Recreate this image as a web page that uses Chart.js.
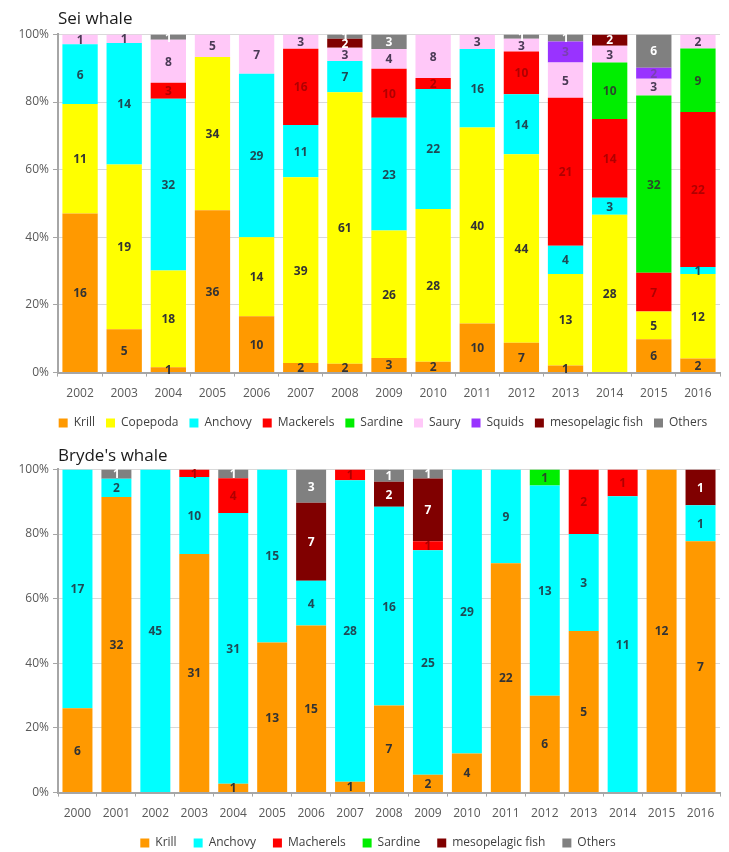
<!DOCTYPE html>
<html>
<head>
<meta charset="utf-8">
<script src="https://cdn.jsdelivr.net/npm/chart.js@4/dist/chart.umd.min.js"></script>
<style>
  html, body { margin: 0; background: #fff; overflow: hidden; }
  .panel { position: absolute; left: 0; }
</style>
</head>
<body>
<div class="panel" style="top:0"><canvas id="sei" width="729" height="446"></canvas></div>
<div class="panel" style="top:432px"><canvas id="bryde" width="729" height="440"></canvas></div>
<script>
// Sei whale - counts per prey item
const seiYears = ['2002','2003','2004','2005','2006','2007','2008','2009','2010','2011','2012','2013','2014','2015','2016'];
const seiKrill     = [16, 5, 1,36,10, 2, 2, 3, 2,10, 7, 1, 0, 6, 2];
const seiCopepoda  = [11,19,18,34,14,39,61,26,28,40,44,13,28, 5,12];
const seiAnchovy   = [ 6,14,32, 0,29,11, 7,23,22,16,14, 4, 3, 0, 1];
const seiMackerels = [ 0, 0, 3, 0, 0,16, 0,10, 2, 0,10,21,14, 7,22];
const seiSardine   = [ 0, 0, 0, 0, 0, 0, 0, 0, 0, 0, 0, 0,10,32, 9];
const seiSaury     = [ 1, 1, 8, 5, 7, 3, 3, 4, 8, 3, 3, 5, 3, 3, 2];
const seiSquids    = [ 0, 0, 0, 0, 0, 0, 0, 0, 0, 0, 0, 3, 0, 2, 0];
const seiMeso      = [ 0, 0, 0, 0, 0, 0, 2, 0, 0, 0, 0, 0, 2, 0, 0];
const seiOthers    = [ 0, 0, 1, 0, 0, 0, 1, 3, 0, 0, 1, 1, 0, 6, 0];

// Bryde's whale
const brydeYears = ['2000','2001','2002','2003','2004','2005','2006','2007','2008','2009','2010','2011','2012','2013','2014','2015','2016'];
const brydeKrill     = [ 6,32, 0,31, 1,13,15, 1, 7, 2, 4,22, 6, 5, 0,12, 7];
const brydeAnchovy   = [17, 2,45,10,31,15, 4,28,16,25,29, 9,13, 3,11, 0, 1];
const brydeMacherels = [ 0, 0, 0, 1, 4, 0, 0, 1, 0, 1, 0, 0, 0, 2, 1, 0, 0];
const brydeSardine   = [ 0, 0, 0, 0, 0, 0, 0, 0, 0, 0, 0, 0, 1, 0, 0, 0, 0];
const brydeMeso      = [ 0, 0, 0, 0, 0, 0, 7, 0, 2, 7, 0, 0, 0, 0, 0, 0, 1];
const brydeOthers    = [ 0, 1, 0, 0, 1, 0, 3, 0, 1, 1, 0, 0, 0, 0, 0, 0, 0];

const FONT = '"Open Sans", "Noto Sans", sans-serif';

function toPercent(series) {
  const totals = series[0].map((_, i) => series.reduce((s, arr) => s + arr[i], 0));
  return series.map(arr => arr.map((v, i) => v / totals[i] * 100));
}

// draws the count in the middle of each segment
const countLabels = {
  id: 'countLabels',
  afterDatasetsDraw(chart) {
    const ctx = chart.ctx;
    ctx.save();
    ctx.font = 'bold 12px ' + FONT;
    ctx.textAlign = 'center';
    ctx.textBaseline = 'middle';
    chart.data.datasets.forEach((ds, di) => {
      const meta = chart.getDatasetMeta(di);
      meta.data.forEach((bar, i) => {
        const n = ds.counts[i];
        if (!n) return;
        ctx.fillStyle = ds.labelColor;
        ctx.fillText(n, bar.x, (bar.y + bar.base) / 2 + 1);
      });
    });
    ctx.restore();
  }
};

// nudges the legend box so it sits where the original one does
const legendShift = {
  id: 'legendShift',
  afterLayout(chart, args, o) {
    const lg = chart.legend;
    lg.left += o.dx; lg.right += o.dx;
    lg.top += o.dy; lg.bottom += o.dy;
  }
};

function makeChart(id, title, years, names, colors, labelColors, counts, opts) {
  const pct = toPercent(counts);
  const datasets = names.map((name, i) => ({
    label: name,
    data: pct[i],
    counts: counts[i],
    backgroundColor: colors[i],
    labelColor: labelColors[i],
    borderWidth: 0,
    barPercentage: opts.barPct,
    categoryPercentage: 1
  }));
  return new Chart(document.getElementById(id), {
    type: 'bar',
    data: { labels: years, datasets: datasets },
    options: {
      responsive: false,
      animation: false,
      layout: { padding: { left: 0, right: 9, bottom: 2 } },
      plugins: {
        title: {
          display: true, text: title, align: 'start', fullSize: false,
          color: '#1a1a1a', font: { family: FONT, size: 17, weight: 'normal' },
          padding: { top: opts.titleTop, bottom: opts.titleBottom }
        },
        legend: {
          position: 'bottom',
          labels: {
            boxWidth: 9, boxHeight: 9, color: '#404040', padding: opts.legendPad,
            font: { family: FONT, size: 12 }
          }
        },
        legendShift: { dx: opts.dx, dy: opts.dy },
        tooltip: { enabled: false }
      },
      scales: {
        x: {
          stacked: true,
          grid: { drawOnChartArea: false, drawTicks: true, tickLength: 4, color: '#a6a6a6' },
          border: { color: '#a6a6a6', width: 2 },
          ticks: { color: '#595959', font: { family: FONT, size: 12 }, padding: 10 }
        },
        y: {
          stacked: true, min: 0, max: 100,
          afterFit(scale) { scale.width = 58; },
          grid: { color: '#d9d9d9', tickLength: 5, tickColor: '#a6a6a6' },
          border: { color: '#a6a6a6', width: 2 },
          ticks: { stepSize: 20, color: '#595959', font: { family: FONT, size: 12 }, padding: 4,
                   callback: v => v + '%' }
        }
      }
    },
    plugins: [countLabels, legendShift]
  });
}

makeChart('sei', 'Sei whale', seiYears,
  ['Krill','Copepoda','Anchovy','Mackerels','Sardine','Saury','Squids','mesopelagic fish','Others'],
  ['#ff9900','#ffff00','#00ffff','#ff0000','#00ee00','#ffc8f8','#9933ff','#800000','#808080'],
  ['#333333','#333333','#1f4a55','#b00000','#2a4a2a','#4a3a55','#7a40b0','#ffffff','#ffffff'],
  [seiKrill, seiCopepoda, seiAnchovy, seiMackerels, seiSardine, seiSaury, seiSquids, seiMeso, seiOthers],
  { barPct: 0.8, titleTop: 9, titleBottom: 5, legendPad: 11, dx: 23, dy: -5 });

makeChart('bryde', "Bryde's whale", brydeYears,
  ['Krill','Anchovy','Macherels','Sardine','mesopelagic fish','Others'],
  ['#ff9900','#00ffff','#ff0000','#00ee00','#800000','#808080'],
  ['#333333','#1f4a55','#b00000','#2a4a2a','#ffffff','#ffffff'],
  [brydeKrill, brydeAnchovy, brydeMacherels, brydeSardine, brydeMeso, brydeOthers],
  { barPct: 0.77, titleTop: 14, titleBottom: 3, legendPad: 17, dx: 18, dy: -11 });
</script>
</body>
</html>
